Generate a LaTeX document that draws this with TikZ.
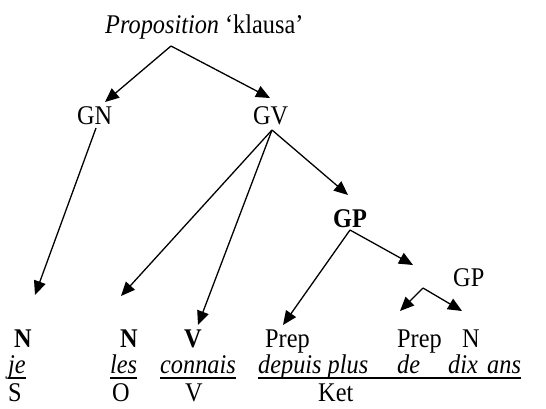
\documentclass[tikz,border=0pt]{standalone}
\usepackage{fontspec}
\setmainfont{Liberation Serif}[FakeStretch=0.9]
\usetikzlibrary{arrows.meta}
\begin{document}
\begin{tikzpicture}[x=1bp,y=-1bp,
  txt/.style={anchor=base west,inner sep=0pt,font=\fontsize{27bp}{30bp}\selectfont},
  arr/.style={line width=1.3bp,-{Triangle[length=14bp,width=12bp]}},
  ul/.style={line width=1.5bp}]
\useasboundingbox (0,0) rectangle (546,408);
% labels
\node[txt] (prop) at (105,33) {\textit{Proposition} ‘klausa’};
\node[txt] (gn) at (77,124) {GN};
\node[txt] (gv) at (253,124) {GV};
\node[txt] (gp) at (333,227) {\textbf{GP}};
\node[txt] (gp2) at (453,286) {GP};
% row 1
\node[txt] (n1) at (14,347) {\textbf{N}};
\node[txt] (n2) at (120,347) {\textbf{N}};
\node[txt] (v1) at (184,347) {\textbf{V}};
\node[txt] (prep1) at (265,347) {Prep};
\node[txt] (prep2) at (397,347) {Prep};
\node[txt] (n3) at (462,347) {N};
% row 2
\node[txt] (je) at (8,373) {\textit{je}};
\node[txt] (les) at (110,373) {\textit{les}};
\node[txt] (connais) at (160,373) {\textit{connais}};
\node[txt] (depuis) at (258,373) {\textit{depuis plus}};
\node[txt] (de) at (397,373) {\textit{de}};
\node[txt] (dix) at (448,373) {\textit{dix}};
\node[txt] (ans) at (487,373) {\textit{ans}};
% row 3
\node[txt] (s) at (8,401) {S};
\node[txt] (o) at (112,401) {O};
\node[txt] (v2) at (185,401) {V};
\node[txt] (ket) at (318,401) {Ket};
% underlines
\draw[ul] ([yshift=-5bp]je.base west) -- ([yshift=-5bp]je.base east);
\draw[ul] ([yshift=-5bp]les.base west) -- ([yshift=-5bp]les.base east);
\draw[ul] ([yshift=-5bp]connais.base west) -- ([yshift=-5bp]connais.base east);
\draw[ul] ([yshift=-5bp]depuis.base west) -- ([yshift=-5bp]ans.base east);
% connector points
\coordinate (ps) at (171,46);
\coordinate (gnt) at (105,102);
\coordinate (gvt) at (270,98);
\coordinate (gns) at (96,128);
\coordinate (n1t) at (35,295);
\coordinate (gvs) at (272,130);
\coordinate (n2t) at (121,296);
\coordinate (v1t) at (198,325);
\coordinate (gpt) at (348,195);
\coordinate (gps) at (350,230);
\coordinate (prept) at (283,325);
\coordinate (gp2t) at (413,265);
\coordinate (pk) at (423,288);
\coordinate (prep2t) at (400,311);
\coordinate (n3t) at (462,311);
% connectors
\draw[arr] (ps) -- (gnt);
\draw[arr] (ps) -- (gvt);
\draw[arr] (gns) -- (n1t);
\draw[arr] (gvs) -- (n2t);
\draw[arr] (gvs) -- (v1t);
\draw[arr] (gvs) -- (gpt);
\draw[arr] (gps) -- (prept);
\draw[arr] (gps) -- (gp2t);
\draw[arr] (pk) -- (prep2t);
\draw[arr] (pk) -- (n3t);
\end{tikzpicture}
\end{document}
